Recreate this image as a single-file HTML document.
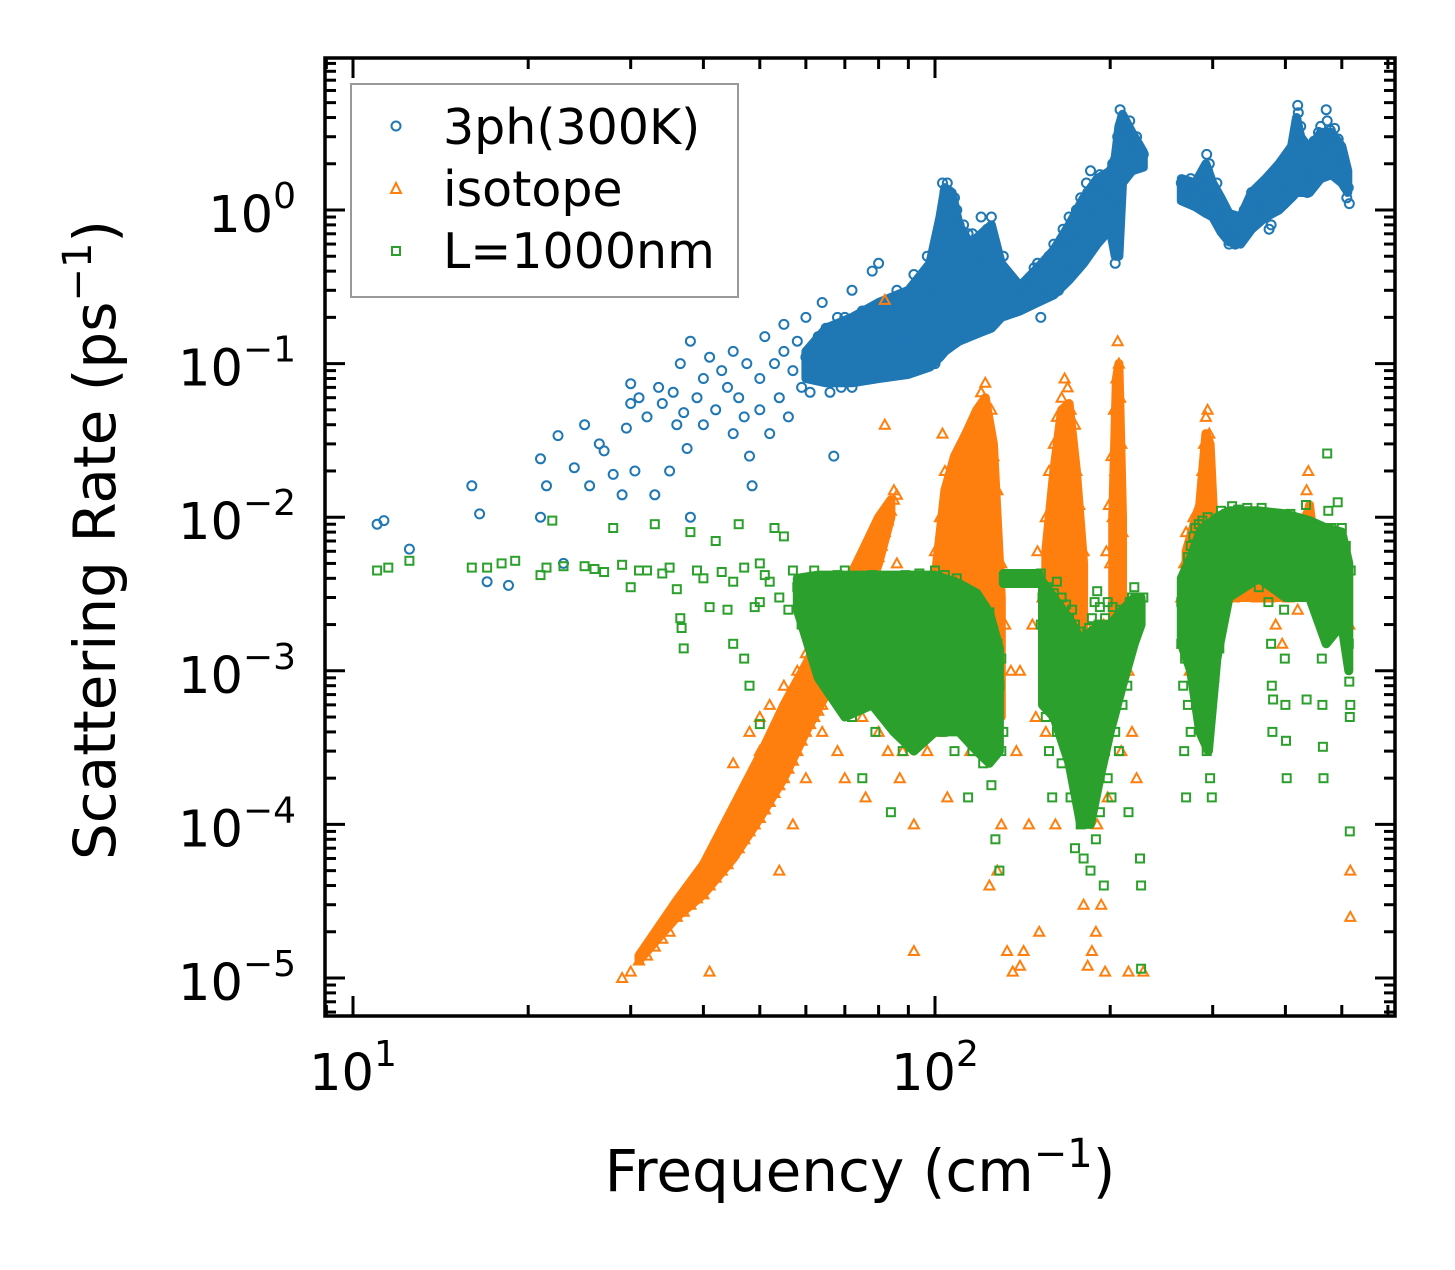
<!DOCTYPE html>
<html><head><meta charset="utf-8"><style>
html,body{margin:0;padding:0;background:#fff;}
svg text{font-family:"DejaVu Sans","Liberation Sans",sans-serif;fill:#000;}
</style></head><body>
<svg id="chart" width="1455" height="1265" viewBox="0 0 1455 1265" xmlns="http://www.w3.org/2000/svg">
<rect x="0" y="0" width="1455" height="1265" fill="#fff"/>
<g id="marks"></g>
<g id="axes"></g>
<g id="legend">
 <rect x="351" y="84" width="387" height="213" fill="#fff" fill-opacity="0.8" stroke="#999" stroke-width="2"/>
 <circle cx="396" cy="126" r="4.5" fill="none" stroke="#1f77b4" stroke-width="2"/>
 <text x="443" y="144" font-size="49">3ph(300K)</text>
 <path d="M396,183 L401,193 L391,193 Z" fill="none" stroke="#ff7f0e" stroke-width="2"/>
 <text x="443" y="206" font-size="49">isotope</text>
 <rect x="392" y="247" width="8" height="8" fill="none" stroke="#2ca02c" stroke-width="2"/>
 <text x="443" y="268" font-size="49">L=1000nm</text>
</g>
<text x="860" y="1191" font-size="58" text-anchor="middle">Frequency (cm<tspan font-size="40" dy="-24">−1</tspan><tspan dy="24">)</tspan></text>
<text transform="translate(115,540) rotate(-90)" font-size="58" text-anchor="middle">Scattering Rate (ps<tspan font-size="40" dy="-24">−1</tspan><tspan dy="24">)</tspan></text>
</svg>
<script>
const xTickValues=[10,100];
const xTickLabels=["1","2"];
const yTickValues=[1,0.1,0.01,0.001,0.0001,0.00001];
const yTickLabels=["0","−1","−2","−3","−4","−5"];
// dense cores of each point cloud: [freq, lower rate, upper rate]
const threePhCoreA=[[60,0.08,0.12],[65,0.075,0.17],[72,0.075,0.2],[80,0.08,0.25],[90,0.085,0.3],[98,0.095,0.45],[102,0.11,0.9],[104,0.12,1.4],[107,0.13,1.3],[110,0.14,0.8],[115,0.15,0.6],[120,0.16,0.7],[125,0.17,0.8],[130,0.2,0.45],[140,0.22,0.32],[150,0.25,0.42],[160,0.28,0.55],[170,0.35,0.8],[180,0.45,1.2],[190,0.6,1.6],[200,0.75,1.8],[204,0.5,2.2],[207,0.5,3.5],[210,1.5,4.2],[218,1.8,3.2],[228,1.9,2.4]];
const threePhCoreB=[[265,1.15,1.6],[280,1.05,1.5],[292,0.95,2.0],[300,0.9,1.5],[310,0.72,1.2],[320,0.62,0.95],[335,0.6,0.9],[350,0.75,1.3],[370,0.9,1.6],[390,1.0,2.0],[410,1.2,2.6],[418,1.3,4.0],[425,1.3,3.0],[440,1.3,2.5],[460,1.6,3.2],[480,1.7,3.2],[500,1.5,2.6],[512,1.3,1.8]];
const isotopeCoreA=[[31,1.3e-5,1.4e-5],[36,2.5e-5,3.2e-5],[40,3.5e-5,5.5e-5],[45,6e-5,1.3e-4],[50,1.1e-4,2.8e-4],[55,2e-4,6e-4],[60,4e-4,1.1e-3],[65,7e-4,2e-3],[70,1.3e-3,3.5e-3],[75,2.5e-3,6e-3],[80,5e-3,0.01],[84,0.01,0.013]];
const isotopeCoreB=[[100,1.5e-3,4e-3],[104,1.5e-3,0.015],[108,1.5e-3,0.025],[113,1.2e-3,0.035],[118,1e-3,0.05],[122,1e-3,0.06],[126,8e-4,0.03],[130,5e-4,3e-3]];
const isotopeCoreC=[[155,2e-3,6e-3],[160,1.5e-3,0.02],[165,1.5e-3,0.05],[170,1.2e-3,0.055],[175,1e-3,0.02],[180,6e-4,5e-3]];
const isotopeCoreD=[[202,1.5e-3,0.01],[205,1.5e-3,0.08],[207,1.5e-3,0.1],[210,1.5e-3,0.01]];
const isotopeCoreE=[[270,3e-3,6e-3],[285,3e-3,0.012],[292,3e-3,0.035],[297,3e-3,0.03],[302,3e-3,8e-3],[330,3e-3,6e-3],[430,3e-3,7e-3],[440,3e-3,0.012],[450,3e-3,6e-3],[510,3e-3,5e-3]];
const boundaryCoreA=[[58,0.0025,0.004],[63,0.0009,0.0042],[70,0.0005,0.0042],[78,0.0006,0.0042],[85,0.0004,0.0042],[92,0.0003,0.0042],[100,0.0004,0.0042],[110,0.0004,0.0037],[118,0.0003,0.0032],[124,0.00025,0.0024],[129,0.0003,0.0014]];
const boundaryCoreB=[[131,0.0037,0.0043],[151,0.0037,0.0043]];
const boundaryCoreC=[[153,0.0006,0.0038],[160,0.0005,0.003],[170,0.00025,0.0022],[178,0.0001,0.0016],[185,0.0001,0.0018],[192,0.0002,0.002],[200,0.0004,0.002],[210,0.0008,0.0025],[220,0.0015,0.003],[226,0.002,0.003]];
const boundaryCoreD=[[265,0.0015,0.004],[275,0.001,0.0055],[285,0.0004,0.008],[295,0.0003,0.009],[305,0.0012,0.01],[320,0.003,0.011],[360,0.004,0.011],[400,0.003,0.0105],[440,0.003,0.0095],[470,0.0015,0.0085],[500,0.002,0.008],[514,0.001,0.005]];
const threePh=[[11,0.009],[11.3,0.0095],[12.5,0.0062],[16,0.016],[16.5,0.0105],[17,0.0038],[18.5,0.0036],[21,0.024],[21,0.01],[21.5,0.016],[22.5,0.034],[23,0.005],[24,0.021],[25,0.04],[25.5,0.016],[26.5,0.03],[27,0.027],[28,0.019],[29,0.014],[29.5,0.038],[30,0.074],[30,0.055],[30.5,0.02],[31,0.06],[32,0.045],[33,0.014],[33.5,0.07],[34,0.055],[35,0.02],[35.5,0.065],[36,0.04],[36.5,0.1],[37,0.048],[37.5,0.028],[38,0.14],[38,0.01],[39,0.06],[40,0.08],[40,0.04],[41,0.11],[42,0.05],[43,0.09],[44,0.07],[45,0.035],[45,0.12],[46,0.06],[47,0.045],[47.5,0.1],[48,0.025],[48.5,0.016],[50,0.08],[50,0.05],[51,0.15],[52,0.035],[53,0.1],[54,0.06],[55,0.12],[55,0.18],[56,0.045],[57,0.09],[58,0.14],[59,0.07],[60,0.2],[60,0.11],[61,0.065],[62,0.08],[62,0.13],[63,0.15],[64,0.25],[64,0.095],[65,0.1],[65,0.17],[66,0.065],[66,0.12],[67,0.025],[67,0.085],[68,0.13],[68,0.2],[69,0.07],[70,0.2],[70,0.09],[70,0.14],[71,0.11],[72,0.3],[72,0.07],[72,0.17],[73,0.12],[74,0.15],[74,0.08],[75,0.11],[75,0.22],[76,0.22],[76,0.09],[77,0.14],[78,0.08],[78,0.4],[78,0.18],[79,0.12],[80,0.17],[80,0.45],[80,0.09],[81,0.25],[82,0.12],[82,0.2],[83,0.15],[84,0.25],[84,0.1],[85,0.1],[85,0.18],[86,0.3],[86,0.13],[87,0.22],[88,0.15],[88,0.1],[89,0.28],[90,0.2],[90,0.09],[90,0.14],[91,0.3],[92,0.38],[92,0.17],[93,0.11],[94,0.13],[94,0.25],[95,0.28],[95,0.16],[96,0.35],[97,0.5],[97,0.12],[98,0.18],[98,0.3],[99,0.22],[100,0.3],[100,0.1],[100,0.45],[101,0.16],[102,0.6],[102,0.25],[103,1.5],[103,0.35],[104,0.2],[104,1.3],[105,1.5],[105,0.5],[106,0.9],[106,1.1],[106,0.3],[107,0.4],[107,0.7],[108,1.2],[108,0.18],[109,1.0],[110,0.6],[110,0.25],[110,0.8],[111,0.4],[112,0.8],[112,0.15],[113,0.3],[113,0.55],[114,0.7],[115,0.55],[115,0.2],[116,0.7],[116,0.35],[117,0.45],[118,0.4],[118,0.25],[119,0.6],[120,0.9],[120,0.2],[121,0.5],[122,0.45],[122,0.3],[123,0.75],[124,0.6],[124,0.35],[125,0.3],[125,0.9],[126,0.45],[127,0.25],[127,0.55],[128,0.35],[130,0.4],[130,0.28],[131,0.5],[132,0.3],[133,0.22],[135,0.28],[136,0.35],[138,0.25],[140,0.3],[142,0.32],[144,0.28],[145,0.35],[147,0.25],[148,0.42],[150,0.45],[150,0.3],[152,0.2],[153,0.35],[155,0.3],[155,0.45],[157,0.5],[158,0.5],[158,0.28],[160,0.35],[160,0.6],[162,0.45],[163,0.3],[165,0.4],[165,0.6],[166,0.75],[168,0.6],[168,0.4],[170,0.45],[170,0.9],[171,0.6],[172,0.8],[173,0.5],[175,0.5],[175,1.0],[176,0.7],[178,0.7],[178,1.2],[179,0.9],[180,1.0],[180,0.6],[182,1.5],[182,0.8],[183,1.3],[184,1.1],[185,1.8],[186,0.6],[186,1.0],[188,1.4],[190,1.4],[190,1.0],[192,1.7],[193,1.2],[195,1.2],[195,0.9],[196,1.5],[198,1.3],[200,1.6],[200,1.1],[202,2.0],[203,0.7],[204,1.1],[204,0.45],[205,0.9],[206,3.0],[206,0.6],[207,1.4],[208,4.5],[208,3.5],[209,2.2],[210,2.5],[210,4.0],[211,1.7],[212,3.5],[213,2.8],[214,2.2],[215,3.0],[216,3.8],[218,2.6],[220,2.5],[222,3.0],[225,2.0],[228,2.3],[265,1.5],[268,1.4],[270,1.5],[272,1.3],[275,1.6],[277,1.4],[280,1.4],[282,1.2],[285,1.3],[287,1.5],[290,1.2],[292,1.1],[293,2.3],[294,1.8],[296,2.0],[297,1.3],[300,1.1],[302,0.95],[305,1.5],[307,0.85],[310,0.9],[312,1.1],[315,0.7],[317,0.8],[320,0.6],[322,0.75],[325,0.65],[328,0.6],[330,0.8],[333,0.65],[336,0.85],[340,1.0],[343,0.8],[346,1.1],[350,1.3],[352,0.9],[356,1.0],[360,1.1],[362,1.4],[366,1.2],[370,1.5],[372,1.0],[375,0.75],[378,0.8],[380,1.2],[383,1.6],[386,1.3],[390,1.8],[392,1.4],[395,2.0],[398,1.1],[400,1.4],[403,1.7],[406,2.2],[410,2.0],[412,1.5],[415,2.8],[418,3.5],[420,4.8],[421,4.3],[423,3.0],[425,3.5],[428,2.5],[430,2.0],[433,1.7],[436,1.3],[440,1.6],[442,2.2],[445,2.0],[448,2.8],[450,2.5],[453,1.8],[456,3.2],[460,3.5],[463,2.4],[466,3.0],[470,4.5],[472,3.8],[475,2.8],[478,3.3],[480,3.0],[483,2.2],[486,3.4],[490,2.5],[493,2.9],[496,2.2],[500,2.0],[503,1.8],[506,1.5],[510,1.2],[513,1.4],[515,1.1]];
const isotope=[[29,1e-5],[30,1.1e-5],[31,1.3e-5],[32,1.4e-5],[33,1.6e-5],[34,1.8e-5],[35,2e-5],[36,2.5e-5],[37,2.7e-5],[38,3e-5],[39,3.3e-5],[40,3.5e-5],[41,1.1e-5],[41,4e-5],[42,4.5e-5],[43,5e-5],[44,5.5e-5],[45,6.5e-5],[46,7e-5],[47,8e-5],[48,9e-5],[49,1e-4],[50,1.1e-4],[51,1.25e-4],[52,1.4e-4],[53,1.6e-4],[54,1.8e-4],[54,5e-5],[55,2e-4],[56,2.3e-4],[57,2.6e-4],[58,3e-4],[59,3.5e-4],[60,4e-4],[61,4.5e-4],[62,5e-4],[63,5.5e-4],[64,6e-4],[65,7e-4],[66,7.5e-4],[67,9e-4],[68,1e-3],[69,1.15e-3],[70,1.3e-3],[71,1.5e-3],[72,1.7e-3],[73,1.9e-3],[74,2.2e-3],[75,2.6e-3],[76,3e-3],[77,3.5e-3],[78,4e-3],[79,4.7e-3],[80,5.5e-3],[81,6.5e-3],[82,8e-3],[83,9.5e-3],[84,0.011],[85,0.013],[86,0.014],[45,2.5e-4],[46,1.5e-4],[48,4e-4],[48,2e-4],[50,5e-4],[50,3e-4],[52,6e-4],[53,3.5e-4],[55,8e-4],[56,5e-4],[57,1e-4],[58,1e-3],[60,1.3e-3],[60,2e-4],[61,7e-4],[63,1.6e-3],[64,4e-4],[65,2e-3],[66,1e-3],[67,2.5e-3],[68,3e-4],[69,1.5e-3],[70,3.5e-3],[70,2e-4],[72,4e-3],[73,8e-4],[74,2.5e-3],[75,5e-3],[75,5e-4],[76,1.5e-4],[77,6e-3],[78,1.2e-3],[80,8e-3],[80,4e-4],[81,2e-3],[82,0.26],[82,0.04],[83,3e-4],[85,0.015],[85,1e-3],[86,5e-3],[87,2e-4],[88,3e-4],[88,2e-3],[90,5e-4],[90,3e-3],[92,1e-4],[92,1.5e-5],[93,1.5e-3],[95,1e-3],[96,4e-3],[97,3e-4],[98,2e-3],[100,2e-3],[100,6e-3],[101,4e-4],[102,0.01],[103,0.035],[103,1e-3],[104,0.02],[105,5e-3],[105,1.5e-4],[106,0.015],[107,3e-3],[108,0.008],[108,5e-4],[109,0.025],[110,0.012],[110,2e-3],[111,7e-3],[112,0.03],[113,1e-3],[113,0.018],[114,5e-3],[115,0.04],[115,3e-4],[116,0.01],[117,0.022],[118,2e-3],[118,0.05],[119,0.015],[120,0.065],[120,6e-3],[121,0.03],[121,8e-4],[122,0.075],[122,0.012],[123,0.04],[123,3e-3],[124,0.02],[124,4e-5],[125,0.008],[125,0.05],[126,1.5e-3],[126,0.025],[127,0.01],[127,4e-4],[128,0.015],[128,5e-5],[130,5e-3],[130,1e-4],[132,2e-3],[133,1.5e-5],[135,1e-3],[136,1.1e-5],[138,3e-4],[140,1.2e-5],[140,1e-3],[142,1.5e-5],[144,4e-3],[145,1e-4],[147,2e-3],[149,5e-4],[150,6e-3],[151,2e-5],[153,3e-3],[155,0.01],[155,4e-4],[157,0.02],[158,1.5e-3],[160,0.03],[160,5e-3],[161,1e-4],[162,0.045],[163,0.012],[164,3e-3],[165,0.06],[165,8e-4],[166,0.025],[167,0.08],[168,0.04],[168,7e-3],[169,0.07],[170,0.015],[170,2e-3],[171,0.05],[172,0.03],[173,5e-4],[173,0.01],[174,0.04],[175,0.02],[176,4e-3],[176,2e-4],[177,0.012],[178,1e-3],[180,6e-3],[180,3e-5],[182,2e-3],[183,1.2e-5],[185,8e-4],[186,1.5e-5],[188,3e-4],[189,2e-5],[190,1e-4],[192,6e-4],[193,3e-5],[195,2e-3],[196,1.1e-5],[197,6e-3],[198,1.5e-4],[199,0.012],[200,0.005],[201,0.025],[202,0.01],[203,0.05],[204,0.02],[204,1e-3],[205,0.08],[205,0.004],[206,0.14],[206,0.035],[207,0.1],[207,0.002],[208,0.06],[208,0.012],[209,0.03],[209,3e-4],[210,0.008],[212,3e-3],[215,1e-3],[215,1.1e-5],[218,4e-4],[222,2e-4],[228,1.1e-5],[265,3e-3],[266,1.5e-3],[268,5e-3],[270,2e-3],[270,8e-3],[272,4e-3],[274,1e-3],[275,6e-3],[277,3e-3],[278,0.01],[280,5e-3],[282,8e-3],[283,2e-3],[285,0.012],[286,6e-3],[288,0.02],[289,4e-3],[290,0.03],[291,0.012],[292,0.045],[293,0.025],[294,0.05],[295,0.008],[296,0.035],[297,0.015],[298,5e-3],[299,2.5e-3],[300,8e-3],[302,4e-3],[305,6e-3],[308,3e-3],[310,5e-3],[313,7e-3],[316,3.5e-3],[320,4.5e-3],[323,6e-3],[326,3e-3],[330,5e-3],[334,4e-3],[338,6.5e-3],[342,3.5e-3],[346,5e-3],[350,4e-3],[354,7e-3],[358,3e-3],[362,5.5e-3],[366,4e-3],[370,6e-3],[375,3e-3],[380,5e-3],[385,2e-3],[390,4e-3],[395,1.5e-3],[400,6e-3],[405,3e-3],[410,5e-3],[415,8e-3],[420,2.5e-3],[425,6e-3],[430,0.01],[435,0.015],[438,0.02],[440,7e-3],[445,4e-3],[450,5e-3],[455,3e-3],[460,6e-3],[465,4e-3],[470,5e-3],[475,2.5e-3],[480,4e-3],[485,3e-3],[490,6e-3],[495,2e-3],[500,4e-3],[505,3e-3],[510,5e-3],[515,2e-3],[517,5e-5],[517,2.5e-5]];
const boundary=[[11,0.0045],[11.5,0.0047],[12.5,0.0052],[16,0.0047],[17,0.0047],[18,0.005],[19,0.0052],[21,0.0042],[21.5,0.0047],[22,0.0095],[23,0.0048],[25,0.0048],[26,0.0046],[27,0.0044],[28,0.0085],[29,0.0049],[30,0.0035],[31,0.0045],[32,0.0045],[33,0.009],[34,0.0043],[35,0.0047],[36,0.0034],[36.5,0.0022],[36.7,0.0019],[37,0.0014],[38,0.008],[39,0.0045],[40,0.004],[41,0.0026],[42,0.007],[43,0.0044],[44,0.0025],[45,0.0038],[45,0.0015],[46,0.009],[47,0.0047],[47,0.0012],[48,0.0008],[49,0.0026],[50,0.005],[50,0.0028],[50,0.00045],[51,0.0042],[52,0.0038],[53,0.0085],[54,0.003],[55,0.0075],[56,0.0025],[57,0.0045],[58,0.0035],[59,0.002],[60,0.004],[60,0.0027],[61,0.0016],[62,0.0033],[62,0.0045],[63,0.0022],[64,0.003],[64,0.0012],[65,0.0038],[65,0.0019],[66,0.0028],[66,0.0008],[67,0.0035],[67,0.002],[68,0.0042],[68,0.0014],[69,0.0026],[69,0.0006],[70,0.0032],[70,0.0018],[70,0.0045],[71,0.001],[71,0.0023],[72,0.0036],[72,0.0005],[73,0.0028],[73,0.0015],[74,0.004],[74,0.0009],[75,0.003],[75,0.002],[75,0.0002],[76,0.0035],[76,0.0012],[77,0.0025],[77,0.0006],[78,0.0042],[78,0.0017],[79,0.003],[79,0.0004],[80,0.0038],[80,0.0022],[80,0.0011],[81,0.0028],[81,0.0007],[82,0.0035],[82,0.0015],[83,0.004],[83,0.0009],[84,0.0026],[84,0.00012],[85,0.0032],[85,0.0018],[86,0.0038],[86,0.0006],[87,0.0025],[87,0.0013],[88,0.0034],[88,0.0003],[89,0.0042],[89,0.002],[90,0.003],[90,0.0009],[91,0.0038],[91,0.0015],[92,0.0026],[92,0.0005],[93,0.0035],[93,0.0012],[94,0.0043],[94,0.002],[95,0.003],[95,0.0007],[96,0.0036],[96,0.0016],[97,0.0025],[97,0.0004],[98,0.0032],[98,0.001],[99,0.004],[99,0.0019],[100,0.003],[100,0.0006],[100,0.0045],[101,0.0022],[102,0.0036],[102,0.0012],[103,0.0028],[103,0.0004],[104,0.0042],[104,0.0016],[105,0.0033],[105,0.0008],[106,0.0025],[106,0.002],[107,0.0038],[107,0.0011],[108,0.003],[108,0.0003],[109,0.004],[109,0.0015],[110,0.0027],[110,0.0007],[111,0.0035],[111,0.0012],[112,0.0022],[112,0.0005],[113,0.003],[113,0.0009],[114,0.0018],[114,0.00015],[115,0.0025],[115,0.0006],[116,0.0014],[116,0.0003],[117,0.002],[117,0.0008],[118,0.0028],[118,0.0011],[119,0.0016],[119,0.0004],[120,0.0022],[120,0.0007],[121,0.0013],[121,0.00025],[122,0.0019],[122,0.0009],[123,0.0015],[123,0.0005],[124,0.0024],[124,0.0003],[125,0.0012],[125,0.00018],[126,0.0018],[126,0.0007],[127,0.001],[127,0.00008],[128,0.0015],[128,0.0004],[129,0.0008],[129,0.00005],[130,0.0012],[130,0.0003],[131,0.0004],[132,0.004],[134,0.0041],[136,0.004],[138,0.0039],[140,0.004],[142,0.0041],[144,0.004],[146,0.0042],[148,0.0039],[150,0.004],[152,0.0043],[152,0.002],[153,0.003],[154,0.0015],[154,0.0008],[155,0.0025],[155,0.0005],[156,0.0035],[156,0.0012],[157,0.002],[157,0.0003],[158,0.0028],[158,0.0009],[159,0.0017],[159,0.00015],[160,0.0032],[160,0.0006],[161,0.0022],[161,0.0011],[162,0.0038],[162,0.0004],[163,0.0026],[163,0.0014],[164,0.0018],[164,0.0007],[165,0.003],[165,0.00025],[166,0.0022],[166,0.001],[167,0.0015],[167,0.0005],[168,0.0027],[168,0.0008],[169,0.0012],[169,0.0003],[170,0.0022],[170,0.0006],[171,0.0016],[171,0.00015],[172,0.0025],[172,0.0009],[173,0.0012],[173,0.0004],[174,0.002],[174,0.00007],[175,0.0015],[175,0.0006],[176,0.0011],[176,0.0003],[177,0.0018],[177,0.0002],[178,0.0009],[178,0.0001],[179,0.0014],[179,0.0004],[180,0.0007],[180,0.00006],[181,0.0012],[181,0.0002],[182,0.0016],[182,0.0005],[183,0.001],[183,0.00012],[184,0.0019],[184,0.0003],[185,0.0008],[185,0.00005],[186,0.0022],[186,0.0006],[187,0.0012],[187,0.0002],[188,0.0028],[188,0.0004],[189,0.0015],[189,0.00008],[190,0.0033],[190,0.0009],[191,0.002],[191,0.0003],[192,0.0026],[192,0.00012],[193,0.0012],[193,0.0005],[194,0.0018],[195,0.0008],[195,0.00004],[196,0.0022],[196,0.0003],[197,0.0015],[198,0.0028],[198,0.0002],[199,0.0011],[200,0.002],[200,0.0006],[201,0.00015],[202,0.0026],[202,0.0009],[203,0.0015],[204,0.0004],[205,0.002],[206,0.0011],[207,0.0003],[208,0.0025],[210,0.0015],[210,0.0006],[212,0.0022],[214,0.0008],[215,0.00012],[216,0.0028],[218,0.003],[220,0.0035],[222,0.0025],[224,0.003],[225,0.00006],[226,0.00004],[226,0.0000115],[228,0.003],[265,0.0028],[265,0.0015],[266,0.0022],[267,0.0008],[268,0.0035],[268,0.0003],[269,0.0012],[270,0.0045],[270,0.00015],[271,0.0025],[272,0.0055],[272,0.0006],[273,0.0035],[274,0.0018],[275,0.0065],[275,0.0004],[276,0.0045],[277,0.0025],[278,0.0075],[278,0.0011],[279,0.0035],[280,0.0085],[280,0.0015],[282,0.0055],[283,0.0028],[284,0.009],[285,0.0006],[286,0.0065],[287,0.0035],[288,0.0095],[289,0.0018],[290,0.0075],[291,0.00045],[292,0.0052],[293,0.0003],[294,0.01],[295,0.0012],[296,0.0068],[297,0.0002],[298,0.0045],[299,0.00015],[300,0.0082],[300,0.0018],[302,0.0055],[302,0.0009],[304,0.0095],[305,0.0028],[307,0.0068],[308,0.0014],[310,0.011],[311,0.0045],[313,0.0078],[315,0.0025],[317,0.0105],[318,0.0058],[320,0.009],[322,0.0035],[324,0.0118],[326,0.0065],[328,0.0095],[330,0.0045],[332,0.0112],[334,0.0075],[336,0.0055],[338,0.0098],[340,0.0038],[342,0.0082],[344,0.0115],[346,0.0062],[348,0.0092],[350,0.0045],[352,0.0108],[354,0.0072],[356,0.0052],[358,0.0095],[360,0.0035],[362,0.0085],[364,0.0115],[366,0.0065],[368,0.0048],[370,0.0098],[372,0.0075],[374,0.0028],[376,0.0055],[378,0.0015],[379,0.0008],[380,0.0004],[381,0.00065],[382,0.0092],[384,0.0062],[386,0.0105],[388,0.0045],[390,0.0078],[392,0.0035],[394,0.0095],[396,0.0058],[398,0.0025],[399,0.0012],[400,0.0006],[401,0.00035],[402,0.0002],[403,0.0085],[405,0.0055],[408,0.0105],[410,0.0068],[412,0.0042],[415,0.0095],[417,0.0065],[420,0.0045],[422,0.0092],[425,0.0058],[428,0.0035],[430,0.0078],[432,0.0085],[434,0.012],[435,0.00065],[436,0.0055],[438,0.0035],[440,0.0075],[442,0.0045],[445,0.006],[448,0.0035],[450,0.0052],[452,0.0028],[455,0.0065],[458,0.004],[460,0.0025],[462,0.0012],[463,0.0006],[464,0.00032],[465,0.0002],[467,0.0085],[470,0.0055],[472,0.026],[474,0.011],[476,0.0065],[478,0.0042],[480,0.0085],[483,0.0055],[486,0.0035],[488,0.0075],[490,0.0048],[492,0.0125],[495,0.0065],[498,0.0038],[500,0.0085],[503,0.0055],[505,0.0028],[508,0.0065],[510,0.0042],[512,0.0028],[514,0.0015],[515,0.00085],[516,0.0005],[516,0.00009],[517,0.0006],[518,0.0045]];

const X0=353, XDEC=582, Y0=210, YDEC=153.6;
const LEFT=325, RIGHT=1395, TOP=58, BOTTOM=1016;
function xScale(f){return X0+(Math.log10(f)-1)*XDEC;}
function yScale(r){return Y0-Math.log10(r)*YDEC;}
const NS='http://www.w3.org/2000/svg';
const marks=document.getElementById('marks');
const axes=document.getElementById('axes');
function mk(tag,attrs,parent){const e=document.createElementNS(NS,tag);for(const k in attrs)e.setAttribute(k,attrs[k]);parent.appendChild(e);return e;}
function core(arr,color,name){
 const top=arr.map(p=>xScale(p[0]).toFixed(1)+','+yScale(p[2]).toFixed(1));
 const bot=arr.slice().reverse().map(p=>xScale(p[0]).toFixed(1)+','+yScale(p[1]).toFixed(1));
 const pg=mk('polygon',{points:top.concat(bot).join(' '),fill:color,stroke:color,'stroke-width':9,'stroke-linejoin':'round'},marks);
 
 
}

core(threePhCoreA,'#1f77b4','dense-core-3ph-a');
core(threePhCoreB,'#1f77b4','dense-core-3ph-b');
const gB=mk('g',{},marks);


threePh.forEach(p=>{
 const c=mk('circle',{cx:xScale(p[0]).toFixed(1),cy:yScale(p[1]).toFixed(1),r:4.5,fill:'none',stroke:'#1f77b4','stroke-width':2},gB);
 
 
});
core(isotopeCoreA,'#ff7f0e','dense-core-isotope-a');
core(isotopeCoreB,'#ff7f0e','dense-core-isotope-b');
core(isotopeCoreC,'#ff7f0e','dense-core-isotope-c');
core(isotopeCoreD,'#ff7f0e','dense-core-isotope-d');
core(isotopeCoreE,'#ff7f0e','dense-core-isotope-e');
const gO=mk('g',{},marks);


isotope.forEach(p=>{
 const x=xScale(p[0]),y=yScale(p[1]);
 const t=mk('path',{d:`M${x.toFixed(1)},${(y-5).toFixed(1)} L${(x+5).toFixed(1)},${(y+4).toFixed(1)} L${(x-5).toFixed(1)},${(y+4).toFixed(1)} Z`,fill:'none',stroke:'#ff7f0e','stroke-width':2},gO);
 
 
});
core(boundaryCoreA,'#2ca02c','dense-core-boundary-a');
core(boundaryCoreB,'#2ca02c','dense-core-boundary-b');
core(boundaryCoreC,'#2ca02c','dense-core-boundary-c');
core(boundaryCoreD,'#2ca02c','dense-core-boundary-d');
const gG=mk('g',{},marks);


boundary.forEach(p=>{
 const x=xScale(p[0]),y=yScale(p[1]);
 const s=mk('rect',{x:(x-4).toFixed(1),y:(y-4).toFixed(1),width:8,height:8,fill:'none',stroke:'#2ca02c','stroke-width':2},gG);
 
 
});

function tick(x1,y1,x2,y2,w){const l=mk('line',{x1,y1,x2,y2,stroke:'#000','stroke-width':w},axes);
 
 }
for(let d=0;d<=3;d++){for(let m=1;m<=9;m++){const f=Math.pow(10,d)*m;const x=xScale(f);if(x<LEFT||x>RIGHT)continue;
 const L=m===1?20:11;tick(x,BOTTOM,x,BOTTOM-L,3);tick(x,TOP,x,TOP+L,3);}}
for(let d=-6;d<=1;d++){for(let m=1;m<=9;m++){const r=Math.pow(10,d)*m;const y=yScale(r);if(y<TOP||y>BOTTOM)continue;
 const L=m===1?20:11;tick(LEFT,y,LEFT+L,y,3);tick(RIGHT,y,RIGHT-L,y,3);}}
const frame=mk('rect',{x:LEFT,y:TOP,width:RIGHT-LEFT,height:BOTTOM-TOP,fill:'none',stroke:'#000','stroke-width':3.5},axes);


xTickValues.forEach((v,i)=>{
 const t=mk('text',{x:xScale(v),y:1090,'font-size':51,'text-anchor':'middle'},axes);
 
 
 t.innerHTML='10<tspan font-size="36" dy="-24">'+xTickLabels[i]+'</tspan>';
});
yTickValues.forEach((v,i)=>{
 const t=mk('text',{x:296,y:yScale(v)+22,'font-size':51,'text-anchor':'end'},axes);
 
 
 t.innerHTML='10<tspan font-size="36" dy="-24">'+yTickLabels[i]+'</tspan>';
});
</script>
</body></html>
